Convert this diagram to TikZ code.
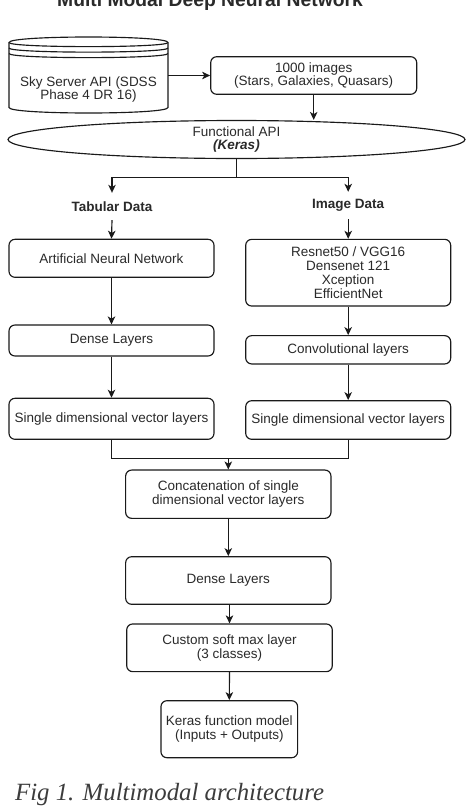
\documentclass[tikz,border=0pt]{standalone}
\usepackage{fontspec}
\setmainfont{Liberation Sans}
\newfontfamily\capfont{Liberation Serif}
\usetikzlibrary{shapes.geometric,arrows.meta,calc}
\definecolor{linec}{HTML}{1A1A1A}
\definecolor{txtc}{HTML}{2A2A2A}
\definecolor{capc}{HTML}{3C3C3C}
\newcommand\bodyfont{\fontsize{13.5}{13.9}\selectfont}
\tikzset{
  box/.style={draw=linec, line width=1.15pt, rounded corners=6pt, align=center,
    inner sep=0pt, font=\bodyfont, text=txtc},
  plainlbl/.style={inner sep=0pt, align=center, font=\bodyfont\bfseries, text=txtc,
    minimum height=27pt},
  arr/.style={draw=linec, line width=1.15pt, -{Stealth[length=8pt,width=7.5pt,inset=2.2pt]}},
  ln/.style={draw=linec, line width=1.15pt},
}
\begin{document}
\begin{tikzpicture}[x=1pt,y=-1pt]
\useasboundingbox (0,0) rectangle (476,806);
\fill[white] (0,0) rectangle (476,806);

% title (clipped at top, as in the reference)
\node[anchor=base, inner sep=0pt, font=\fontsize{19.3}{20}\selectfont\bfseries, text=txtc] (title) at (210,6.5) {Multi Modal Deep Neural Network};

% data store cylinder
\node[minimum width=159pt, minimum height=76pt, inner sep=0pt] (sky) at (88.5,75) {};
\draw[ln, fill=white] (9,42.5) .. controls (9,35.17) and (168,35.17) .. (168,42.5)
  -- (168,107.5) .. controls (168,114.83) and (9,114.83) .. (9,107.5) -- cycle;
\draw[ln] (9,42.5) .. controls (9,48) and (168,48) .. (168,42.5);
\draw[ln] (9,48) .. controls (9,53.5) and (168,53.5) .. (168,48);
\draw[ln] (9,53.5) .. controls (9,59) and (168,59) .. (168,53.5);
\node[inner sep=0pt, align=center, font=\bodyfont, text=txtc] (skytxt) at (88.5,89.5) {Sky Server API (SDSS\\Phase 4 DR 16)};

\node[box, minimum width=206pt, minimum height=37.6pt] (img) at (313.7,75.5) {1000 images\\(Stars, Galaxies, Quasars)};

\node[ellipse, draw=linec, line width=1.15pt, minimum width=457pt, minimum height=38pt, inner sep=0pt,
  align=center, font=\bodyfont, text=txtc] (fapi) at (236.5,139.5) {Functional API\\\textbf{\textit{(Keras)}}};

\draw[arr] (sky.east |- img.west) -- (img.west);
\draw[arr] (img.south) -- (img.south |- fapi.north);

% split
\coordinate (split) at (236.5,177.7);
\node[plainlbl] (tab) at (112,206.5) {Tabular Data};
\node[plainlbl] (imd) at (348.2,205.5) {Image Data};
\draw[ln] (fapi.south) -- (split);
\draw[arr] (split) -| (tab.north);
\draw[arr] (split) -| (imd.north);

% left column
\node[box, minimum width=205pt, minimum height=38pt] (ann) at (111.5,258.3) {Artificial Neural Network};
\node[box, minimum width=205pt, minimum height=31pt] (dl) at (111.5,340.5) {Dense Layers};
\node[box, minimum width=205pt, minimum height=41pt] (sl) at (111.5,418.8) {Single dimensional vector layers};

% right column
\node[box, minimum width=205pt, minimum height=66.7pt] (cnn) at (348.2,272.7) {Resnet50 / VGG16\\Densenet 121\\Xception\\EfficientNet};
\node[box, minimum width=205pt, minimum height=28.3pt] (conv) at (348.2,349.8) {Convolutional layers};
\node[box, minimum width=205pt, minimum height=38.6pt] (sr) at (348.2,420) {Single dimensional vector layers};

\draw[arr] (tab.south) -- (ann.north);
\draw[arr] (ann.south) -- (dl.north);
\draw[arr] (dl.south) -- (sl.north);
\draw[arr] (imd.south) -- (cnn.north);
\draw[arr] (cnn.south) -- (conv.north);
\draw[arr] (conv.south) -- (sr.north);

% merge
\coordinate (merge) at (228.3,458.3);
\draw[ln] (sl.south) -- (sl.south |- merge) -- (sr.south |- merge) -- (sr.south);

% bottom column
\node[box, minimum width=205.3pt, minimum height=48.3pt] (cat) at (228.3,494.2) {Concatenation of single\\dimensional vector layers};
\node[box, minimum width=205.3pt, minimum height=47.6pt] (dl2) at (228.3,580.5) {Dense Layers};
\node[box, minimum width=205.6pt, minimum height=47.7pt] (soft) at (229.5,647.8) {Custom soft max layer\\(3 classes)};
\node[box, minimum width=136.7pt, minimum height=57pt] (kfm) at (229.3,729.2) {Keras function model\\(Inputs + Outputs)};

\draw[arr] (merge) -- (cat.north);
\draw[arr] (cat.south) -- (dl2.north);
\draw[arr] (dl2.south -| soft.north) -- (soft.north);
\draw[arr] (soft.south) -- (kfm.north);

% caption
\node[anchor=base west, inner sep=0pt, font=\capfont\itshape\fontsize{24.8}{26}\selectfont, text=capc] (cap) at (15,800) {Fig 1. Multimodal architecture};
\end{tikzpicture}
\end{document}
